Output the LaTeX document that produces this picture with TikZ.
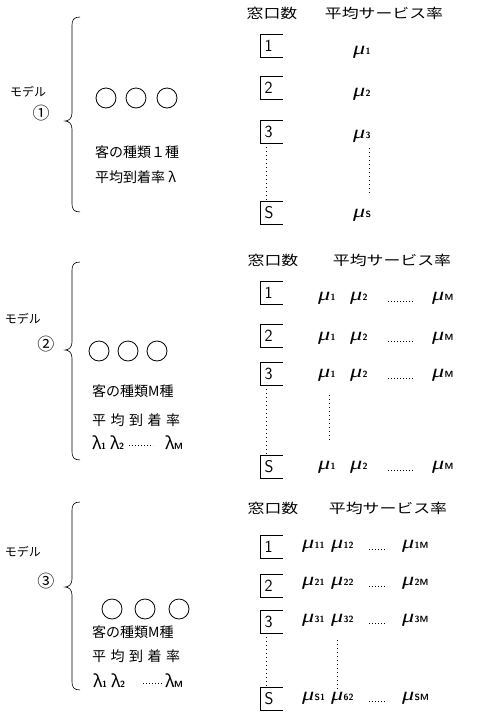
\documentclass[tikz,border=0pt]{standalone}
\usepackage{fontspec}
\newfontfamily\jp{Noto Sans CJK JP}
\newfontfamily\jpw[FakeStretch=1.25]{Noto Sans CJK JP}
\newfontfamily\muf[FakeStretch=1.35]{Liberation Serif}
\newcommand\mub[1]{{\muf\itshape\fontsize{18}{18}\selectfont μ}\kern0.2pt{\sffamily\bfseries\fontsize{9}{9}\selectfont #1}}
\newcommand\lam[1]{{\jp λ}\kern-0.5pt{\sffamily\bfseries\fontsize{9}{9}\selectfont #1}}
\newcommand\mybrace[4]{%
  \draw[bracepath] (#1+8,#2) .. controls (#1+2,#2) and (#1,#2+3) .. (#1,#2+8)
    -- (#1,#3-8) .. controls (#1,#3-3) and (#1-3,#3) .. (#1-7,#3)
    .. controls (#1-3,#3) and (#1,#3+3) .. (#1,#3+8)
    -- (#1,#4-8) .. controls (#1,#4-3) and (#1+2,#4) .. (#1+8,#4);}
\begin{document}
\begin{tikzpicture}[x=1pt,y=-1pt,
  hdr/.style={font=\jpw\fontsize{13.5}{13.5}\selectfont, inner sep=0},
  lbl/.style={font=\jp\fontsize{14}{14}\selectfont, anchor=west, inner sep=0},
  model/.style={font=\jp\fontsize{12}{12}\selectfont, inner sep=0},
  num/.style={font=\jp\fontsize{17}{17}\selectfont, inner sep=0},
  cust/.style={circle, draw, line width=0.8pt, minimum size=20pt, inner sep=0},
  win/.style={minimum height=22pt, text width=14pt, inner xsep=4pt, inner ysep=0,
     align=left, font=\sffamily\fontsize{17}{17}\selectfont},
  mu/.style={anchor=west, inner sep=0},
  lamb/.style={anchor=west, inner sep=0, font=\fontsize{17}{17}\selectfont},
  bracepath/.style={line width=0.6pt},
  frame/.style={line width=0.9pt},
  vdots/.style={line width=0.8pt, dash pattern=on 1pt off 3pt},
  rowdots/.style={line width=0.6pt, dash pattern=on 1pt off 2pt}]
\useasboundingbox (0,0) rectangle (482,721);

% ---------------- Model 1 ----------------
\mybrace{72}{17}{121}{212}
\node[model] (m1t) at (28,92) {モデル};
\node[num] (m1n) at (41,113) {①};
\node[cust] (c11) at (106,98) {};
\node[cust] (c12) at (136,98) {};
\node[cust] (c13) at (167,98) {};
\node[lbl] (t11) at (95,152) {客の種類１種};
\node[lbl] (t12) at (95,177) {平均到着率 λ};
\node[hdr] (h1a) at (272,13) {窓口数};
\node[hdr] (h1b) at (384,13) {平均サービス率};
\node[win] (b11) at (271.5,46) {1};
\node[win] (b12) at (271.5,88) {2};
\node[win] (b13) at (271.5,132) {3};
\node[win] (b1S) at (271.5,213) {S};
\node[mu] (u11) at (353,52) {\mub{1}};
\node[mu] (u12) at (353,94) {\mub{2}};
\node[mu] (u13) at (353,136) {\mub{3}};
\node[mu] (u1S) at (353,215) {\mub{S}};
\coordinate (d1a) at (369,148);
\coordinate (d1b) at (369,196);
\draw[vdots] (d1a) -- (d1b);
\draw[vdots] ([xshift=6.5pt]b13.south west) -- ([xshift=6.5pt]b1S.north west);

% ---------------- Model 2 ----------------
\mybrace{72}{262}{350}{460}
\node[model] (m2t) at (23,319) {モデル};
\node[num] (m2n) at (46,344) {②};
\node[cust] (c21) at (99,351) {};
\node[cust] (c22) at (128,351) {};
\node[cust] (c23) at (157,351) {};
\node[lbl] (t21) at (92,391) {客の種類M種};
\node[lbl] (t22) at (92,420) {平\hspace{4.5pt}均\hspace{4.5pt}到\hspace{4.5pt}着\hspace{4.5pt}率};
\node[lamb] (l21) at (92,443) {\lam{1}};
\node[lamb] (l22) at (110,443) {\lam{2}};
\node[lamb] (l2M) at (165,443) {\lam{M}};
\draw[rowdots] (l22.east) ++(5,2) -- ++(24,0);
\node[hdr] (h2a) at (273,260) {窓口数};
\node[hdr] (h2b) at (392,260) {平均サービス率};
\node[win] (b21) at (271.5,293) {1};
\node[win] (b22) at (271.5,336) {2};
\node[win] (b23) at (271.5,374) {3};
\node[win] (b2S) at (271.5,467) {S};
\foreach \r/\y in {1/298,2/338,3/375,S/467}{
  \node[mu] (u2\r a) at (318,\y) {\mub{1}};
  \node[mu] (u2\r b) at (350,\y) {\mub{2}};
  \node[mu] (u2\r M) at (432,\y) {\mub{M}};
  \draw[rowdots] (388,\y+3) -- (413,\y+3);
}
\draw[vdots] (329,395) -- (329,443);
\draw[vdots] ([xshift=6.5pt]b23.south west) -- ([xshift=6.5pt]b2S.north west);

% ---------------- Model 3 ----------------
\mybrace{72}{502}{587}{690}
\node[model] (m3t) at (23,552) {モデル};
\node[num] (m3n) at (46,581) {③};
\node[cust] (c31) at (112,609) {};
\node[cust] (c32) at (145,609) {};
\node[cust] (c33) at (179,609) {};
\node[lbl] (t31) at (92,632) {客の種類M種};
\node[lbl] (t32) at (92,656) {平\hspace{4.5pt}均\hspace{4.5pt}到\hspace{4.5pt}着\hspace{4.5pt}率};
\node[lamb] (l31) at (93,681) {\lam{1}};
\node[lamb] (l32) at (111,681) {\lam{2}};
\node[lamb] (l3M) at (165,681) {\lam{M}};
\draw[rowdots] (143,683) -- (162,683);
\node[hdr] (h3a) at (273,508) {窓口数};
\node[hdr] (h3b) at (388,508) {平均サービス率};
\node[win] (b31) at (271.5,547) {1};
\node[win] (b32) at (271.5,586) {2};
\node[win] (b33) at (271.5,622) {3};
\node[win] (b3S) at (271.5,699) {S};
\foreach \r/\s/\t/\y in {1/11/12/546,2/21/22/583,3/31/32/620,S/S1/62/698}{
  \node[mu] (u3\r a) at (302,\y) {\mub{\s}};
  \node[mu] (u3\r b) at (331,\y) {\mub{\t}};
  \node[mu] (u3\r M) at (402,\y) {\mub{\r M}};
  \draw[rowdots] (369,\y+3) -- (385,\y+3);
}
\draw[vdots] (337,640) -- (337,690);
\draw[vdots] ([xshift=6.5pt]b33.south west) -- ([xshift=6.5pt]b3S.north west);

% open frames of the window boxes
\foreach \n in {b11,b12,b13,b1S,b21,b22,b23,b2S,b31,b32,b33,b3S}{
  \draw[frame] (\n.north east) -| (\n.south west) -- (\n.south east);
}
\end{tikzpicture}
\end{document}
